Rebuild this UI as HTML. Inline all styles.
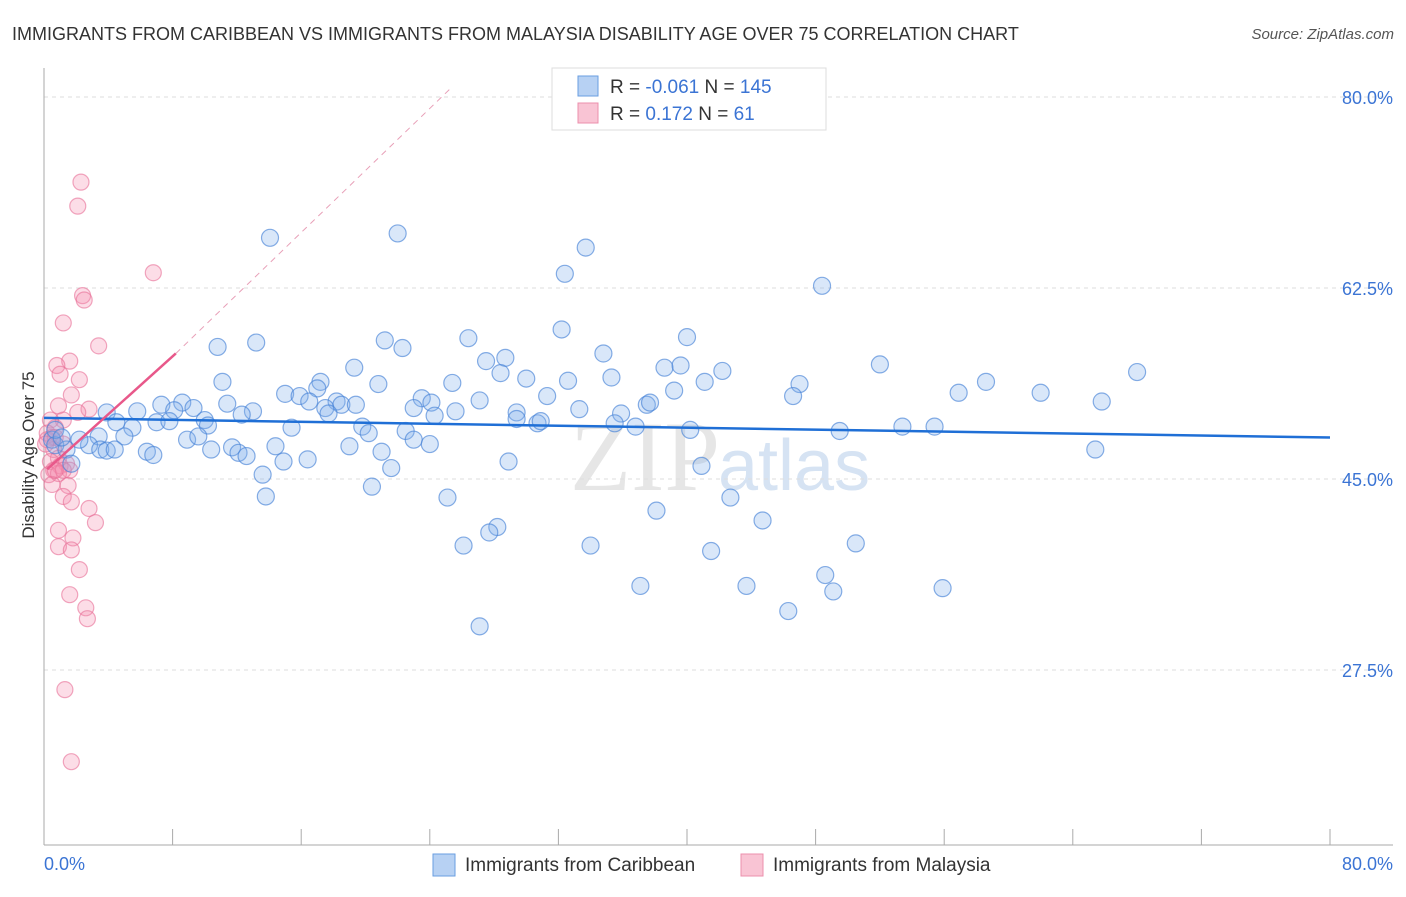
<!DOCTYPE html>
<html><head><meta charset="utf-8"><style>
body{margin:0;background:#fff;font-family:"Liberation Sans",sans-serif}
#c{position:relative;width:1406px;height:892px}
</style></head><body>
<div id="c">
<svg id="s" width="1406" height="892">
<text x="12" y="40" font-size="18" fill="#333">IMMIGRANTS FROM CARIBBEAN VS IMMIGRANTS FROM MALAYSIA DISABILITY AGE OVER 75 CORRELATION CHART</text>
<text x="1394" y="39" font-size="15" fill="#555" font-style="italic" text-anchor="end">Source: ZipAtlas.com</text>
<text x="720" y="490" font-size="100" fill="#e6e6e6" font-family="Liberation Serif" text-anchor="end">ZIP</text>
<text x="718" y="490" font-size="72" fill="#d6e3f3">atlas</text>
<g id="grid"></g><g id="axes"></g><g id="pink"></g><g id="blue"></g><g id="lines"></g>
<text x="34" y="455" font-size="17" fill="#333" text-anchor="middle" transform="rotate(-90 34 455)">Disability Age Over 75</text>
<text x="44" y="870" font-size="18" fill="#3b74d4">0.0%</text>
<text x="1393" y="870" font-size="18" fill="#3b74d4" text-anchor="end">80.0%</text>
<g>
<rect x="552" y="68" width="274" height="62" fill="#fff" stroke="#ddd"/>
<rect x="578" y="76" width="20" height="20" fill="#b7d1f3" stroke="#6a9ee0"/>
<rect x="578" y="103" width="20" height="20" fill="#f9c4d4" stroke="#ec8fac"/>
<text x="610" y="93" font-size="19" fill="#333">R = <tspan fill="#3b74d4">-0.061</tspan>   N = <tspan fill="#3b74d4">145</tspan></text>
<text x="610" y="120" font-size="19" fill="#333">R =   <tspan fill="#3b74d4">0.172</tspan>   N =   <tspan fill="#3b74d4">61</tspan></text>
</g>
<g>
<rect x="433" y="854" width="22" height="22" fill="#b7d1f3" stroke="#6a9ee0"/>
<text x="465" y="871" font-size="19" fill="#333">Immigrants from Caribbean</text>
<rect x="741" y="854" width="22" height="22" fill="#f9c4d4" stroke="#ec8fac"/>
<text x="773" y="871" font-size="19" fill="#333">Immigrants from Malaysia</text>
</g>
</svg></div>
<script>
const yTicks=[80,62.5,45,27.5];
const yTickLabels=["80.0%","62.5%","45.0%","27.5%"];
const xTicks=[0,8,16,24,32,40,48,56,64,72,80];
const blueX=[14.06,22.0,33.7,32.4,48.4,32.2,26.4,40.0,21.2,22.3,10.8,13.2,34.8,27.5,28.7,52.0,19.3,38.6,39.6,42.2,68.0,28.4,35.3,30.0,32.6,20.8,11.1,25.4,41.1,47.0,58.6,17.2,17.0,15.0,15.9,39.2,46.6,56.9,62.0,31.3,23.5,27.1,65.8,8.6,7.3,11.4,18.2,16.5,18.5,24.1,37.5,37.7,5.8,8.1,9.3,17.5,19.4,23.0,33.3,25.6,35.9,29.4,13.0,12.3,3.9,17.7,24.3,7.0,10.0,4.5,7.8,10.2,29.4,30.7,30.9,19.8,35.5,15.4,5.5,22.5,20.2,36.8,40.2,49.5,53.4,55.4,5.0,3.4,23.0,8.9,9.6,2.8,24.0,0.5,0.7,3.5,11.7,10.4,14.4,3.9,1.4,19.0,6.4,6.8,12.1,12.6,21.0,4.4,14.9,16.4,28.9,65.4,21.6,1.7,40.9,13.6,20.4,13.8,25.1,42.7,38.1,44.7,28.2,27.7,26.1,34.0,50.5,41.5,48.6,37.1,43.7,55.9,49.1,46.3,27.1,0.7,1.1,2.2];
const blueY=[67.1,67.5,66.2,63.8,62.7,58.7,57.9,58.0,57.7,57.0,57.1,57.5,56.5,55.8,56.1,55.5,55.2,55.2,55.4,54.9,54.8,54.7,54.3,54.2,54.0,53.7,53.9,53.8,53.9,53.7,53.9,53.9,53.3,52.8,52.6,53.1,52.6,52.9,52.9,52.6,52.4,52.2,52.1,52.0,51.8,51.9,52.1,52.1,51.8,52.0,51.8,52.0,51.2,51.3,51.5,51.5,51.8,51.5,51.4,51.2,51.0,51.1,51.2,50.9,51.1,51.0,50.8,50.2,50.4,50.2,50.3,49.9,50.5,50.1,50.3,49.8,50.1,49.7,49.7,49.4,49.2,49.8,49.5,49.4,49.8,49.8,48.9,48.9,48.6,48.6,48.9,48.1,48.2,48.6,48.1,47.7,47.9,47.7,48.0,47.6,47.7,48.0,47.5,47.2,47.4,47.1,47.5,47.7,46.6,46.8,46.6,47.7,46.0,46.4,46.2,45.4,44.3,43.4,43.3,43.3,42.1,41.2,40.6,40.1,38.9,38.9,39.1,38.4,36.2,35.2,35.2,35.0,34.7,32.9,31.5,49.5,48.8,48.6];
const pinkX=[2.3,2.1,6.8,2.4,2.5,1.2,3.4,1.6,0.8,1.0,2.2,1.7,0.9,2.8,2.1,1.2,0.4,0.7,0.2,0.5,0.2,0.7,1.2,0.6,0.9,0.4,1.4,1.0,1.6,0.6,0.3,0.9,1.2,0.5,1.5,1.2,1.7,2.8,3.2,0.9,1.8,0.9,1.7,2.2,1.6,2.6,2.7,1.3,1.7,0.7,0.1];
const pinkY=[72.2,70.0,63.9,61.8,61.4,59.3,57.2,55.8,55.4,54.6,54.1,52.7,51.7,51.4,51.1,50.4,50.4,49.7,49.2,48.8,48.6,48.8,48.2,47.7,46.9,46.6,46.4,46.2,45.8,45.8,45.4,45.5,45.8,44.5,44.4,43.4,42.9,42.3,41.0,40.3,39.6,38.8,38.5,36.7,34.4,33.2,32.2,25.7,19.1,45.8,48.2];
const blueTrend=[[0,50.6],[80,48.8]];
const pinkTrend=[[0.2,45.9],[8.2,56.5]];
const pinkDash=[[8.2,56.5],[25.3,80.8]];
const NS="http://www.w3.org/2000/svg";
const X=v=>44+v*1286/80, Y=v=>479-(v-45)*191/17.5;
function mk(t,a,p){const e=document.createElementNS(NS,t);for(const k in a)e.setAttribute(k,a[k]);document.getElementById(p).appendChild(e);return e;}
yTicks.forEach((t,i)=>{
 const l=mk('line',{x1:44,x2:1393,y1:Y(t),y2:Y(t),stroke:'#ddd','stroke-dasharray':'4 4'},'grid');
 
 
 const tx=mk('text',{x:1393,y:Y(t)+7,'font-size':18,fill:'#3b74d4','text-anchor':'end'},'grid');tx.textContent=yTickLabels[i];
 
 
});
const ax=mk('line',{x1:44,x2:44,y1:68,y2:845,stroke:'#aaa'},'axes');


const bx=mk('line',{x1:44,x2:1393,y1:845,y2:845,stroke:'#aaa'},'axes');


xTicks.forEach(t=>{const l=mk('line',{x1:X(t),x2:X(t),y1:829,y2:845,stroke:'#aaa'},'axes');
 
 });
pinkX.forEach((v,i)=>{const c=mk('circle',{cx:X(v),cy:Y(pinkY[i]),r:8,fill:'rgba(244,143,174,0.3)',stroke:'rgba(232,110,150,0.6)','stroke-width':1.2},'pink');
 
 });
blueX.forEach((v,i)=>{const c=mk('circle',{cx:X(v),cy:Y(blueY[i]),r:8.5,fill:'rgba(130,175,235,0.3)',stroke:'rgba(70,130,215,0.65)','stroke-width':1.2},'blue');
 
 });
const bl=mk('line',{x1:X(blueTrend[0][0]),y1:Y(blueTrend[0][1]),x2:X(blueTrend[1][0]),y2:Y(blueTrend[1][1]),stroke:'#1f6fd6','stroke-width':2.5},'lines');


const pl=mk('line',{x1:X(pinkTrend[0][0]),y1:Y(pinkTrend[0][1]),x2:X(pinkTrend[1][0]),y2:Y(pinkTrend[1][1]),stroke:'#e8588a','stroke-width':2.5},'lines');


const pd=mk('line',{x1:X(pinkDash[0][0]),y1:Y(pinkDash[0][1]),x2:X(pinkDash[1][0]),y2:Y(pinkDash[1][1]),stroke:'#e8a0b8','stroke-width':1,'stroke-dasharray':'6 5'},'lines');


</script></body></html>
